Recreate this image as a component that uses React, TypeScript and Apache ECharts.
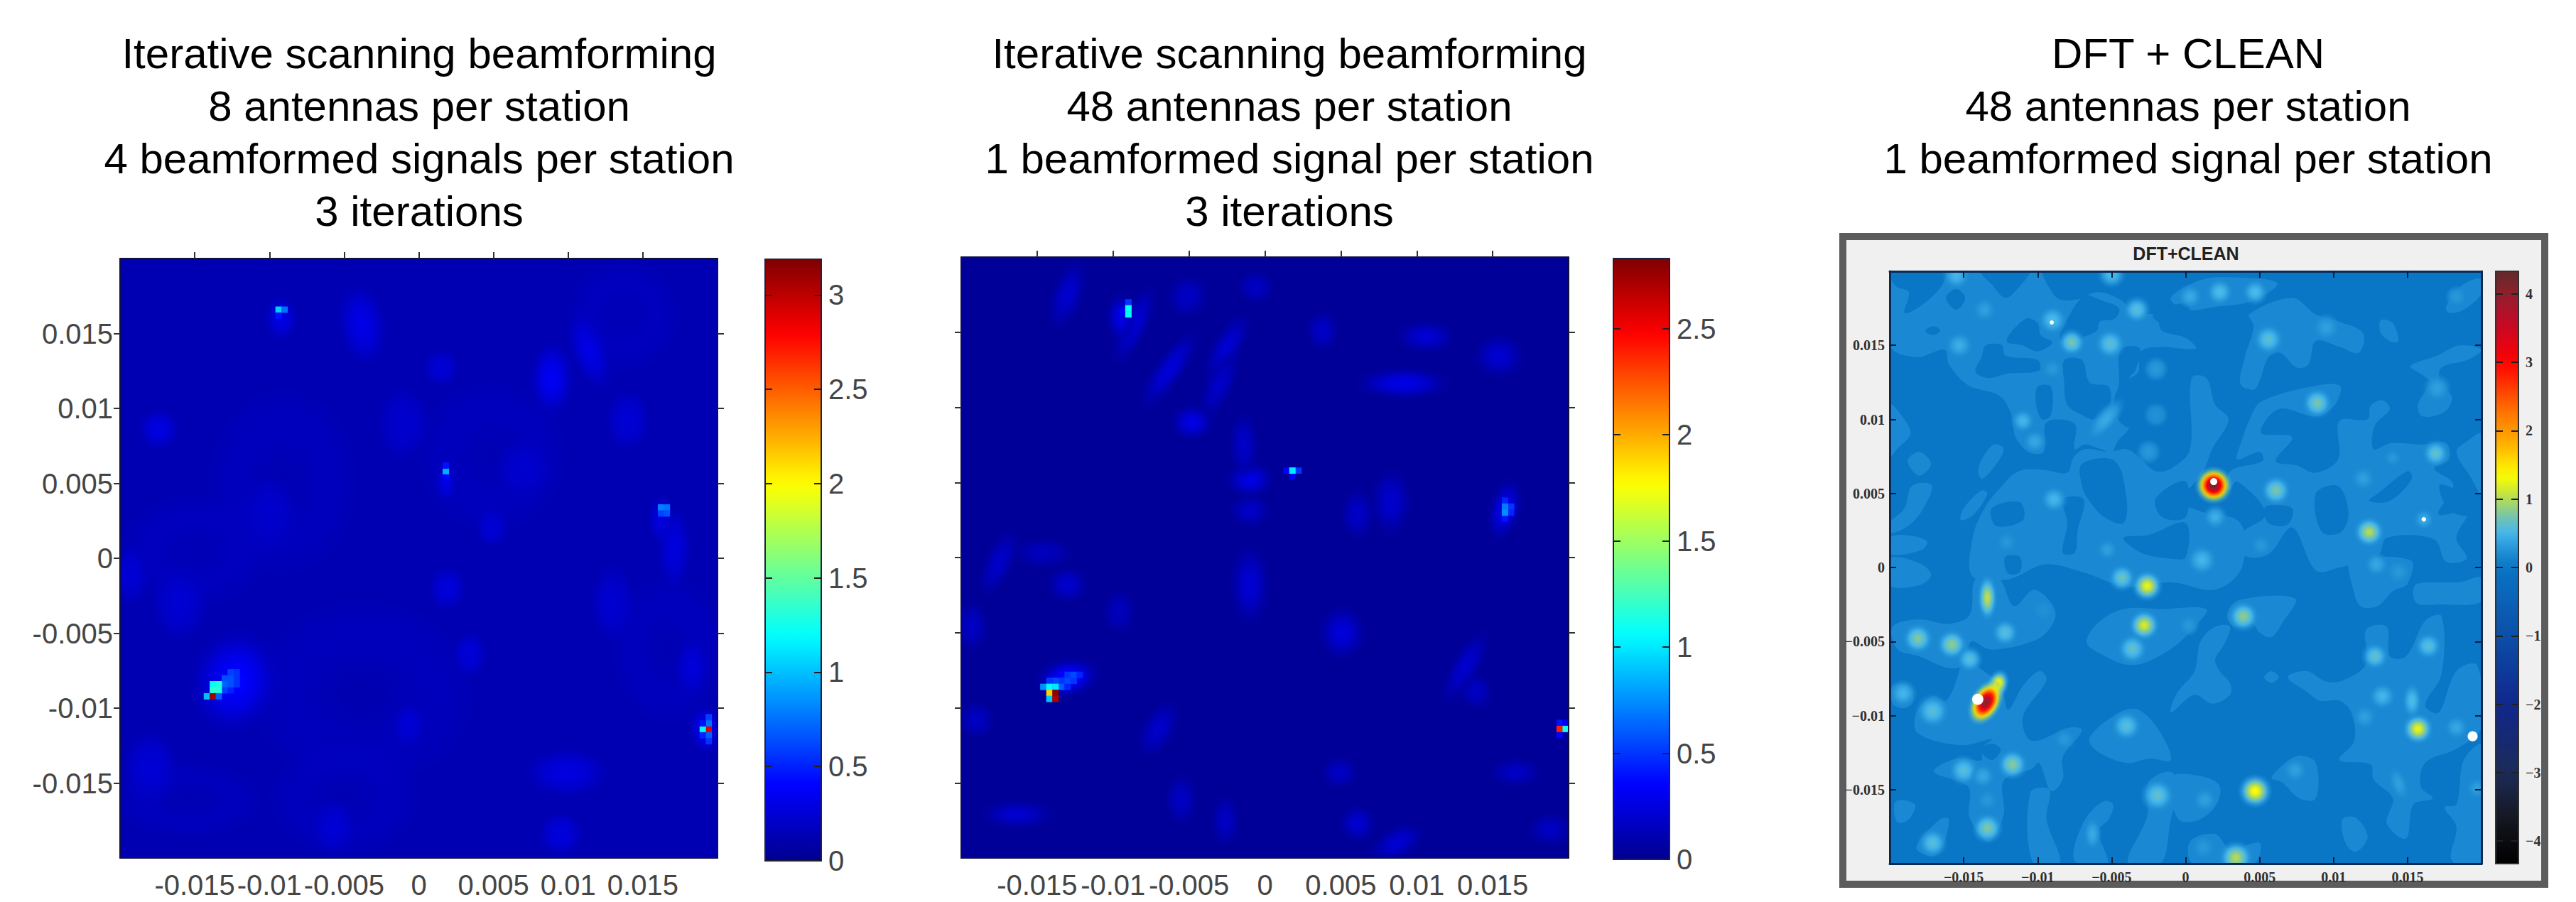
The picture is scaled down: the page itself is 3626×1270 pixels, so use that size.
import React, { useEffect, useRef } from "react";
import * as echarts from "echarts";

const plotTicks = [-0.015, -0.01, -0.005, 0, 0.005, 0.01, 0.015];
const AXIS_LIMIT = 0.02;
const CELL = 0.4; // one image pixel, axis units x 1e-3

const jetStops = [[0, "#00008f"], [0.125, "#0000ff"], [0.375, "#00ffff"], [0.625, "#ffff00"], [0.875, "#ff0000"], [1, "#800000"]];
const cleanStops = [[-4.33, "#000000"], [-3.7, "#15161e"], [-3, "#1c2b58"], [-2, "#10268c"], [-1, "#0b4fa8"], [0, "#0a74c4"], [0.2, "#1a8ad2"], [0.5, "#45b6ec"], [0.8, "#80c8a0"], [1, "#b4dc50"], [1.35, "#ffff00"], [1.8, "#ffb000"], [2.3, "#ff7000"], [3, "#ff0000"], [3.6, "#c00a28"], [4, "#90202e"], [4.33, "#5f2a2a"]];

// Soft structure: x, y, value, rx, ry, rotation in degrees
const beam8Soft = [
  [-3.8, -9, 0.12, 6, 5, 0], [-9.1, 5.1, 0.13, 4, 5, 0], [4.9, 6.8, 0.13, 4, 4, 0], [-15.5, -16.1, 0.13, 4, 2, 0], [16.7, -6.1, 0.13, 3, 4, 0], [13.7, 16.2, 0.14, 3, 3, 0], [-5, -16, 0.13, 4, 3, 0], [-15, 0.5, 0.14, 4, 3, 0],
  [8.9, 12, 0.36, 1.2, 2, 0], [11.4, 13.9, 0.31, 1, 2.2, 20], [-3.8, 15.6, 0.31, 1.3, 2.2, 10], [-17.4, 8.6, 0.3, 1.1, 1.1, 0], [4.9, 2.1, 0.25, 0.9, 1.1, 0], [3.4, -6.4, 0.26, 0.9, 1.2, 0], [-0.7, -11.1, 0.25, 0.9, 1.2, 0], [9.9, -14.3, 0.29, 2.2, 1.3, 0], [9.5, -18.4, 0.28, 1.2, 1.2, 0], [-5.7, -17.9, 0.25, 1.2, 1.5, 0], [-19.3, -1.1, 0.25, 1, 1.6, 0], [1.5, 12.7, 0.25, 1, 1, 0], [14, 9.2, 0.25, 1.2, 1.6, 0], [1.9, -2, 0.27, 1, 1.2, 0], [17.1, 0.7, 0.28, 0.9, 2.2, 0], [-12.3, -8.2, 0.42, 2.4, 2.8, -15], [-9.2, 16, 0.3, 0.9, 1.2, 0], [18.3, -7.3, 0.27, 0.9, 1.6, 0], [1.8, 5, 0.29, 0.6, 1, 0], [16.2, 2.6, 0.28, 0.7, 1.3, 0], [19.2, -11.4, 0.35, 0.9, 1.3, 0], [-10, 3, 0.22, 1.5, 2, 0], [7, 6, 0.23, 1.5, 1.5, 0], [-16, -3, 0.24, 1.5, 2, 0], [13, -3, 0.23, 1.2, 2, 0], [-18, -14, 0.25, 1.5, 2, 0], [-1, 9, 0.22, 1.4, 2, 0],
];
const beam8Cells = [
  [-9.4, 16.6, 1.05], [-9, 16.6, 0.75], [-9.4, 16.2, 0.45],
  [1.8, 5.8, 0.95], [1.8, 6.2, 0.45], [1.8, 5.4, 0.4],
  [16.2, 3.4, 0.8], [16.6, 3.4, 0.75], [16.2, 3, 0.6], [16.6, 3, 0.65],
  [-13, -8.8, 0.6], [-12.6, -8.8, 0.5], [-13, -8.4, 0.7], [-12.6, -8.4, 0.65], [-12.2, -8.4, 0.55], [-13, -8, 0.65], [-12.6, -8, 0.65], [-12.2, -8, 0.55], [-12.6, -7.6, 0.6], [-12.2, -7.6, 0.55],
  [-13.8, -8.4, 1.2], [-13.4, -8.4, 1.3], [-13.8, -8.8, 1.35], [-13.4, -8.8, 1.3], [-14.2, -9.2, 1], [-13.8, -9.2, 3.1], [-13.4, -9.2, 0.7],
  [19.4, -11.4, 2.9], [19, -11.4, 1.2], [19.4, -11, 0.75], [19.4, -10.6, 0.6], [19.4, -11.8, 0.7], [19.4, -12.2, 0.55], [19, -11.8, 0.5], [19, -11, 0.45],
];
const beam48Soft = [
  [-6.3, 12.5, 0.23, 0.8, 2.6, -35], [-13, 17.5, 0.2, 0.9, 2, -20], [-8.6, 15.5, 0.21, 0.8, 2.4, -25], [-2.5, 14, 0.21, 0.8, 2.2, -30], [-3, 11.5, 0.18, 0.8, 2, -25], [-4.8, 9, 0.27, 1.2, 1, 0], [-1, 5.2, 0.28, 1.3, 1, 0], [-1.4, 7.5, 0.18, 0.8, 1.8, 0], [9.1, 11.6, 0.28, 2.6, 0.9, 0], [10.6, 14.7, 0.22, 1.6, 0.9, 0], [15.4, 13.4, 0.21, 1.4, 1.2, 0], [3.8, 15.1, 0.18, 0.9, 1.1, 0], [8.3, 3.7, 0.2, 1.1, 1.9, 0], [6.1, 2.9, 0.18, 0.9, 1.4, 0], [-1, 3.1, 0.18, 1.1, 0.9, 0], [15.8, 3.2, 0.3, 0.9, 1.8, -15], [-17.5, -0.3, 0.18, 0.8, 2, -25], [-13, -1.8, 0.2, 1.1, 1, 0], [-14.6, 0.3, 0.15, 1.6, 0.8, 0], [-1, -1.8, 0.22, 1.1, 2.2, 0], [5.1, -5, 0.24, 1.3, 1.5, 0], [13.2, -7.3, 0.2, 0.8, 2.3, -30], [13.9, -8.9, 0.17, 0.9, 1, 0], [-7, -11.4, 0.19, 0.9, 1.7, -30], [-16.3, -17.1, 0.2, 2, 0.8, 0], [-19, -10.8, 0.17, 1, 1, 0], [6.1, -17.7, 0.21, 1, 1, 0], [8.7, -19, 0.21, 1.6, 0.9, 30], [16.5, -14.3, 0.17, 1.4, 0.8, 0], [18.8, -18.1, 0.17, 1.2, 0.9, 0], [4.9, -14.3, 0.17, 1, 0.9, 0], [-5.5, -16.1, 0.17, 0.9, 1.4, 0], [-2.6, -17.5, 0.17, 0.8, 1.4, 0], [-0.6, 18, 0.17, 1, 0.9, 0], [-5.1, 17.4, 0.17, 1.1, 1.2, -30], [-19.3, -4.6, 0.17, 0.9, 1.4, 0], [-9.6, -3.6, 0.15, 0.9, 1.2, 0], [-13, -8, 0.4, 1.8, 1.1, 10], [-9.5, 16, 0.27, 0.8, 1.4, 0],
];
const beam48Cells = [
  [-9, 17, 0.5], [-9.4, 16.4, 0.35], [-9, 16.6, 1.1], [-9, 16.2, 1.05],
  [1.4, 5.8, 0.35], [2.2, 5.8, 0.5], [1.8, 5.4, 0.3], [1.8, 5.8, 1],
  [15.8, 3.8, 0.45], [15.8, 2.6, 0.4], [16.2, 3.4, 0.5], [16.2, 3, 0.45], [15.8, 3.4, 0.7], [15.8, 3, 0.75],
  [-13.4, -8.2, 0.5], [-13.8, -8.2, 0.55], [-13, -8.2, 0.55], [-12.6, -8.2, 0.5], [-13, -7.8, 0.5], [-12.6, -7.8, 0.55], [-12.2, -7.8, 0.45], [-13.4, -8.6, 0.6], [-14.2, -8.2, 0.5], [-13, -8.6, 0.45],
  [-14.6, -8.6, 0.75], [-14.2, -8.6, 1.05], [-13.8, -8.6, 1], [-14.2, -9, 1.9], [-13.8, -9, 2.8], [-14.2, -9.4, 0.9], [-13.8, -9.4, 2.7],
  [19.4, -11, 0.4], [19.4, -11.8, 0.35], [19.8, -11, 0.3], [19.4, -11.4, 2.4], [19.8, -11.4, 1.1],
];
// DFT+CLEAN: lighter contour regions (x, y vertices)
const cleanRegions = [
  [[-20, 20], [-9.8, 20], [-9.2, 18.9], [-7.5, 18.1], [-6, 18.6], [-4.6, 18.2], [-3.3, 17.2], [-2, 17], [-1.6, 16], [0, 15.5], [0.7, 14.8], [-0.5, 14.8], [-1.5, 14.9], [-3, 14.6], [-3.2, 13.2], [-3.7, 12.8], [-4.6, 12], [-4.8, 11], [-4.3, 10], [-3.8, 9.5], [-4.6, 8.5], [-5, 7.7], [-5.5, 7.9], [-6.8, 8.3], [-7.5, 8], [-7.5, 9.7], [-9.4, 9.8], [-9.6, 7.8], [-10.6, 7.8], [-11.5, 8.8], [-11.8, 10.4], [-12.6, 11.6], [-14.7, 12.3], [-16, 13.7], [-16.3, 14.7], [-18.2, 14.2], [-20, 15]],
  [[-20, 11], [-19, 10], [-18.6, 9], [-19.5, 8], [-20, 7.5]],
  [[-18.8, 7.2], [-18, 7.8], [-17.2, 7], [-18, 6.2]],
  [[-14, 6.8], [-13, 8.3], [-12.3, 8], [-13, 6.7], [-13.8, 6]],
  [[-19, 4], [-18.5, 5.5], [-17.2, 5.6], [-17.4, 4.6], [-18.5, 3], [-20, 2.3], [-20, 3]],
  [[-15, 4], [-13.8, 5.2], [-13.4, 5], [-14.3, 3.6], [-15.2, 3.2]],
  [[-20, 2], [-19, 2.2], [-17.5, 1.8], [-17.8, 1.2], [-20, 0.9]],
  [[-20, 0.6], [-18, 0.3], [-17.2, -0.5], [-18, -1.2], [-20, -1.2]],
  [[-14.4, 2], [-13.6, 4], [-12.6, 5.3], [-11.3, 6.5], [-9.6, 6.6], [-8, 6.4], [-7.6, 7.4], [-6.8, 8], [-5.2, 7.8], [-4, 8], [-3.2, 7.5], [-2, 6.5], [-0.8, 6.8], [0.3, 8], [0.4, 12.8], [1.4, 12.8], [2, 11], [2.9, 10], [1.8, 8], [1.2, 6.5], [-0.2, 4.5], [1, 3.8], [3.7, 3], [3.8, 0], [2, -1.5], [-1, -1], [-4, -1.3], [-7, -0.3], [-9.5, 0.2], [-12, -0.8], [-14.4, -0.6]],
  [[-1, 18.2], [1, 19.4], [3, 19.6], [6.2, 19.2], [4.5, 18], [2, 17.6], [0, 17.4]],
  [[4.3, 17.1], [7.2, 18.2], [8.8, 17.1], [10.4, 16.6], [12, 15.8], [11.7, 14.5], [10.4, 14.9], [8.8, 15.3], [8.3, 13.7], [7.5, 13.5], [6.4, 14.5], [5.6, 14.2], [5, 12.6], [4.6, 12], [3.7, 12.4], [4, 14.2], [4.6, 16.3]],
  [[13.2, 16.7], [14, 16.5], [14.4, 15.3], [14, 15.2], [13.2, 15.8]],
  [[17.6, 17.6], [18.6, 19], [20, 19.5], [20, 18.5], [18.8, 17.4], [17.8, 17.2]],
  [[15.2, 13.6], [17, 14.3], [18.5, 15], [20, 14.7], [19, 14], [17.3, 13.5], [17.2, 12.5], [18, 11.5], [17.5, 10.5], [16, 10.2], [15.7, 11], [16.5, 12.5], [16, 13]],
  [[3.7, 8.3], [4.5, 10.4], [5.1, 11.2], [7.9, 12.1], [10.4, 12.3], [10.1, 11], [8.8, 10.2], [6.3, 10.7], [5.1, 9.1], [7.2, 8.8], [6.1, 7.2], [7.5, 6.9], [8.8, 6.4], [10.3, 7.3], [10.4, 9.9], [12.3, 10], [12.5, 10.9], [13.3, 11.3], [13.8, 10.7], [12.8, 9.6], [12.7, 8], [13.9, 8.4], [16, 8.3], [17.6, 8.4], [17.8, 7.3], [16.8, 6.7], [18.1, 5.6], [17.1, 3.6], [19.1, 3.8], [18.3, 2], [19, 0.6], [17.6, 0.4], [16.8, 1.9], [13.6, 2], [13, 0.8], [10.4, 0], [8.8, -0.2], [7.2, 2.7], [5.6, 0.9], [4, 0.8], [3.7, 2.2], [5.4, 3.6], [3.5, 5.8], [2.9, 5.2], [3, 6.5], [5.2, 7.2], [5, 7.8], [3.5, 7.3]],
  [[20, 9], [19, 8.5], [18.3, 7.8], [19.2, 6.2], [20, 5]],
  [[11, 0], [11.2, -1], [11.8, -2.6], [13, -2.6], [14, -1.6], [15, -1.1], [15.2, 0.5], [11, 0.5]],
  [[15.5, -1.2], [17, -1], [18.5, -1], [20, -0.7], [20, -2.3], [17, -2.5], [15.6, -2.4]],
  [[3.6, -2.2], [7.4, -2.1], [6.5, -3.8], [5.8, -4.7], [5, -4.4], [4.5, -3.8], [3.3, -4], [2.8, -3.2]],
  [[3, -4], [2.6, -5.2], [2, -6.2], [2.3, -7], [3, -7.8], [3, -8.6], [1.8, -9.2], [0.6, -8.6], [-1, -9.8], [-0.6, -8.5], [0.6, -7], [1, -5], [2, -4]],
  [[5.3, -7.4], [5.8, -7], [6.3, -7.4], [5.8, -7.8]],
  [[6.9, -7.4], [8.2, -7], [9.5, -7.7], [10.7, -7.6], [12.2, -6.5], [12.2, -4.2], [13.6, -4], [13.8, -6], [14.9, -6], [16.2, -3.6], [17.3, -3.3], [17.3, -7.2], [16.2, -9.3], [17.1, -9.8], [18.3, -7], [19.7, -6.6], [20, -10.8], [18.4, -12.2], [16.2, -13.2], [15.9, -14.8], [16.7, -15.6], [15.4, -16], [14.9, -18.3], [13.6, -17.3], [14, -15.6], [12.7, -14.3], [12.5, -13.3], [10.4, -13], [11.4, -11.7], [11.2, -9.8], [10.4, -9], [9.1, -9], [8.2, -8.4]],
  [[20, -12], [18.8, -13], [18.3, -16], [17.5, -16.2], [18.3, -17.5], [18, -19.8], [20, -20]],
  [[10.6, -17], [11.5, -16.9], [12.3, -18.2], [11.5, -19.2], [10.8, -18.6]],
  [[7, -13], [7.8, -12.7], [8.8, -13.2], [8.8, -15.6], [7.7, -15.6], [6.5, -14.5], [5.8, -14.2]],
  [[-1, -14.2], [0.5, -14], [2.2, -14.6], [2.2, -15.8], [1, -17], [-0.5, -17]],
  [[0.3, -18.5], [2, -18], [3, -19], [5, -18.6], [4.6, -20], [0.5, -20]],
  [[-18.2, -9.8], [-17.1, -8.7], [-16.2, -9], [-15.3, -7], [-15.2, -5.9], [-13.9, -6.8], [-12.5, -8], [-12, -9.6], [-11, -8], [-9.9, -7], [-9.4, -7.6], [-11, -10.1], [-10.4, -11.7], [-7.8, -10.8], [-7, -11], [-8.3, -12.8], [-8.3, -14.3], [-9.1, -15.1], [-9.9, -13.2], [-10.4, -13.6], [-12.3, -14.4], [-12.3, -16.7], [-13.3, -18.5], [-14.6, -16.9], [-14.7, -14.8], [-17, -13.8], [-15.5, -12.9], [-13.8, -13], [-13.8, -12.2], [-13.1, -11.6], [-15.2, -12], [-18.1, -11.2]],
  [[-19.8, -8], [-18.7, -8], [-18.4, -9], [-19, -9.5], [-19.8, -9.2]],
  [[-19.6, -15.8], [-18.3, -16], [-18.7, -17], [-19.5, -17.2]],
  [[-18.2, -18.9], [-16.6, -17], [-16, -17], [-16.5, -19], [-17.2, -19.5]],
  [[-10.5, -15.2], [-9.2, -15], [-9.4, -17], [-8.5, -20], [-10.3, -20]],
  [[-7.5, -19.8], [-6.9, -17.2], [-5.6, -15.8], [-4.9, -16], [-5.2, -17], [-5.9, -17.8], [-5.3, -20]],
  [[-3.9, -20], [-2.6, -16.8], [-2.5, -14.5], [-1, -13.8], [-0.5, -15], [-1, -17], [-1.7, -20]],
  [[-6.5, -11.5], [-4.5, -9.8], [-3.2, -9.6], [-1.8, -11], [-1, -13], [-2.4, -12.9], [-4, -13.2], [-6, -12.4]],
  [[-19.8, -4], [-18, -3.5], [-16, -3.8], [-14.6, -3.2], [-14.2, -0.8], [-12.6, -0.8], [-11.6, -2.6], [-10.2, -1.5], [-8.8, -3], [-9.5, -4.5], [-11, -5.2], [-12.5, -5.5], [-13.4, -5.5], [-14.5, -5], [-14.9, -6.5], [-16, -6.8], [-18, -6], [-19.5, -5.5]],
  [[-6.7, -5], [-5.9, -3.7], [-4.2, -2.8], [-1.6, -2.8], [1.4, -2.8], [0.8, -3.8], [-1, -5.5], [-3.6, -6.6], [-6, -5.7]],
];
// DFT+CLEAN: darker holes inside those regions
const cleanHoles = [
  [[-20, 20], [-16.3, 20], [-16.5, 19], [-18, 17.6], [-19, 17.2], [-18.7, 18.6], [-19.6, 19]],
  [[-16.2, 18.2], [-15.5, 18.8], [-14.9, 18.2], [-15.5, 17.4]],
  [[-17.6, 16], [-17, 16.3], [-16.6, 16], [-17.1, 15.7]],
  [[-13.8, 20], [-10.6, 20], [-11.3, 18.9], [-12.2, 18.2], [-13, 19]],
  [[-12.1, 15.3], [-10.8, 16.8], [-10, 16.5], [-9.8, 15.7], [-9, 15.2], [-10, 14.6], [-11, 15]],
  [[-13.5, 15], [-12.4, 15], [-12.2, 14.3], [-10, 14], [-9.9, 13.3], [-12, 13.1], [-13.3, 12.8], [-14.2, 13.2], [-13.8, 14.2]],
  [[-9.6, 20], [-6, 20], [-6.8, 19], [-7.2, 18.2], [-8.5, 18.1], [-9.2, 18.9]],
  [[-6.9, 18.3], [-5.6, 18], [-4.5, 17.5], [-4.8, 16.8], [-5.8, 16.6], [-6, 16], [-7, 15.5], [-7.8, 14.8], [-8.5, 15.5], [-8.4, 16]],
  [[-8.2, 14], [-7, 14], [-6.5, 12.5], [-5.2, 12.2], [-5.2, 10.7], [-6.2, 10], [-7, 10.3], [-8, 11], [-8.2, 12.5]],
  [[-10, 12.2], [-9.1, 12.2], [-9.1, 10.3], [-9.7, 10], [-10.1, 11]],
  [[-4.4, 14.7], [-3.1, 14.8], [-3.4, 13.3], [-3.8, 12.8], [-3.5, 11], [-3.3, 9.5], [-4.2, 9.6], [-4.8, 10.7], [-4.5, 12.5]],
  [[-2.2, 17], [0, 17.8], [0.4, 16.2], [-1, 16], [-1.6, 16.4]],
  [[-7, 7], [-4.8, 7.2], [-4, 4.7], [-4.2, 3], [-5.5, 3.4], [-6.5, 4.5], [-7, 5.5]],
  [[-13.1, 4], [-11.2, 4.4], [-11, 3.2], [-12.8, 2.8]],
  [[-8.3, 4.6], [-6.9, 4.6], [-7.3, 2.5], [-7.5, 1], [-8.3, 1], [-8, 3]],
  [[-4.2, 2], [-2.5, 2.2], [0, 3], [0, 0.7], [-1, 0.6], [-3, 1]],
  [[-2, 4.7], [0, 5.8], [0, 3.4], [-1.6, 3.4]],
  [[-12.2, 0.7], [-11.2, 0.7], [-11.2, -0.3], [-12, -0.4]],
  [[8.8, 5], [10.3, 5.5], [11, 3.7], [10.5, 2.4], [9.2, 2.4]],
  [[5.4, 4.1], [7.2, 4], [6.9, 2.9], [5.6, 3]],
  [[12.4, 4.5], [13, 5], [15, 6.5], [15.3, 6], [13.8, 4.5]],
  [[17.2, 5.6], [19.3, 4.5], [19.4, 3.5], [17.8, 3.9]],
  [[-13.9, -12.3], [-13.1, -11.9], [-12.5, -12.3], [-13.1, -13]],
];
// DFT+CLEAN: round sources, x, y, peak value, radius
const cleanSpots = [
  [-15.5, 19.7, 0.5, 0.9], [-5, 19.8, 0.55, 0.9], [0.3, 18.3, 0.42, 0.8], [2.3, 18.6, 0.55, 0.9], [4.7, 18.6, 0.55, 0.85], [-3.3, 17.4, 0.6, 0.9], [-9, 16.7, 0.55, 0.95], [-13.6, 17.4, 0.35, 0.8], [-7.7, 15.2, 0.75, 0.9], [-5.1, 15.1, 0.62, 1], [-15.3, 15, 0.45, 0.9], [5.6, 15.4, 0.62, 1], [9.5, 16.2, 0.35, 0.9], [-2, 13.4, 0.3, 0.8], [-9, 13.4, 0.3, 0.7], [8.9, 11.1, 0.75, 1],
  [17, 12.1, 0.35, 0.9], [-11, 9.9, 0.5, 0.8], [-10.2, 8.5, 0.4, 0.8], [-2, 10.3, 0.25, 0.8], [-2.5, 7.8, 0.3, 0.8], [16.9, 7.7, 0.65, 0.9], [12, 6, 0.35, 0.8], [14, 7.4, 0.3, 0.6], [18.3, 18.3, 0.3, 0.7], [-8.9, 4.6, 0.5, 0.9], [6.1, 5.2, 0.75, 1], [2, 3.4, 0.45, 0.8], [12.4, 2.4, 1, 1], [5.1, 1.5, 0.3, 0.7], [-12.1, 1.7, 0.3, 0.7], [-5.3, 1.2, 0.35, 0.7], [1.1, 0.5, 0.5, 1], [12.9, 0.2, 0.4, 0.8], [14.4, -0.3, 0.3, 0.8], [16.1, 3.25, 0.42, 0.7],
  [-4.3, -0.7, 0.7, 0.9], [-2.6, -1.25, 1.25, 1], [-9.6, -2.9, 0.25, 0.7], [3.9, -3.3, 0.85, 1], [0.2, -3.9, 0.3, 0.7], [-2.8, -3.9, 1.15, 1], [-12.2, -4.4, 0.6, 0.9], [-18.1, -4.8, 0.8, 1], [-15.8, -5.2, 0.85, 1], [-14.6, -6.2, 0.6, 0.85], [-3.6, -5.5, 0.65, 1], [12.8, -6, 0.65, 0.9], [16.4, -5.3, 0.6, 0.9],
  [-19.1, -8.5, 0.5, 0.9], [-17.1, -9.7, 0.6, 1.1], [13.3, -8.7, 0.5, 0.9], [12.1, -10.1, 0.35, 0.8], [-4, -10.7, 0.6, 1], [15.7, -10.9, 1.25, 1], [18.3, -10.8, 0.4, 0.8], [-8.2, -11.6, 0.3, 0.7], [-15, -13.7, 0.6, 1], [-11.7, -13.3, 0.82, 1], [-13.7, -14.1, 0.4, 0.8], [4.7, -15.1, 1.35, 1.1], [-1.9, -15.4, 0.65, 1.1], [1.3, -15.7, 0.35, 0.8], [7.4, -13.7, 0.35, 0.8], [-13.4, -15.7, 0.3, 0.7], [-13.4, -17.6, 0.78, 1], [-17.1, -18.6, 0.6, 0.95], [1.2, -18.9, 0.3, 0.8], [3.4, -19.6, 1, 1.1], [19.7, -14.9, 0.35, 0.7],
];
// DFT+CLEAN: elongated and strong sources, x, y, peak, rx, ry, rotation
const cleanEllipses = [
  [-13.4, -2.05, 1.05, 0.65, 1.5, 0], [-5.4, 10, 0.42, 0.7, 1.7, -40], [15.3, -9, 0.55, 0.65, 1.2, 0], [14.4, -14.6, 0.35, 0.6, 1.2, 20], [-6.3, -18, 0.42, 0.6, 1.1, 0],
  [-12.7, -7.9, 1.5, 0.7, 1, -20], [1.9, 5.55, 4.3, 1.2, 1.2, 0], [-13.5, -9.1, 4.1, 1, 1.6, -30],
];
const cleanWhite = [[1.9, 5.8, 0.24], [-14.05, -8.9, 0.38], [-9.05, 16.55, 0.14], [16.1, 3.25, 0.15], [19.4, -11.4, 0.34]];

const cbTicksA = [0, 0.5, 1, 1.5, 2, 2.5, 3];
const cbTicksB = [0, 0.5, 1, 1.5, 2, 2.5];
const cbTicksC = [-4, -3, -2, -1, 0, 1, 2, 3, 4];

const hex = (h: string) => [1, 3, 5].map((i) => parseInt(h.slice(i, i + 2), 16));
const lookup = (stops: any[], min: number, max: number) => (v: number) => {
  const f = stops[0][0] === 0 && stops[stops.length - 1][0] === 1 ? (v - min) / (max - min) : v;
  if (f <= stops[0][0]) return hex(stops[0][1]);
  for (let i = 1; i < stops.length; i++) {
    if (f <= stops[i][0]) {
      const t = (f - stops[i - 1][0]) / (stops[i][0] - stops[i - 1][0]);
      const a = hex(stops[i - 1][1]), b = hex(stops[i][1]);
      return a.map((c, k) => Math.round(c + (b[k] - c) * t));
    }
  }
  return hex(stops[stops.length - 1][1]);
};
const toCss = (c: number[]) => "#" + c.map((x) => x.toString(16).padStart(2, "0")).join("");
const sampled = (map: any, min: number, max: number, n: number) =>
  Array.from({ length: n }, (_, i) => toCss(map(min + ((max - min) * i) / (n - 1))));

const GT = [0, 0.12, 0.24, 0.36, 0.48, 0.6, 0.72, 0.84, 1];
const softFill = (peak: number, floor: number, map: any) =>
  new echarts.graphic.RadialGradient(0.5, 0.5, 0.5, GT.map((t) => {
    const v = floor + (peak - floor) * Math.exp(-Math.pow(t / 0.58, 2));
    const a = t < 0.55 ? 1 : Math.max(0, (1 - t) / 0.45);
    const c = map(v);
    return { offset: t, color: `rgba(${c[0]},${c[1]},${c[2]},${a.toFixed(2)})` };
  }));

const softRender = (floor: number, map: any, scale: number) => (_: any, api: any) => {
  const p = api.coord([api.value(0), api.value(1)]);
  const s = api.size([api.value(3), api.value(4)]);
  return {
    type: "circle", x: p[0], y: p[1], scaleX: (s[0] * scale) / 100, scaleY: (s[1] * scale) / 100, rotation: (api.value(5) * Math.PI) / 180,
    shape: { cx: 0, cy: 0, r: 100 }, style: { fill: softFill(api.value(2), floor, map) },
  };
};
const cellRender = (_: any, api: any) => {
  const p = api.coord([api.value(0), api.value(1)]);
  const s = api.size([CELL / 1000, CELL / 1000]);
  return { type: "rect", shape: { x: p[0] - s[0] / 2, y: p[1] - s[1] / 2, width: s[0] + 0.5, height: s[1] + 0.5 }, style: { fill: api.visual("color") } };
};
const milliPoint = (r: number[]) => [r[0] / 1000, r[1] / 1000, ...r.slice(2)];
const milliSoft = (r: number[]) => [r[0] / 1000, r[1] / 1000, r[2], r[3] / 1000, r[4] / 1000, r[5]];

const SANS = "Liberation Sans";
const SERIF = "Liberation Serif";
const GRAY = "#454545";

function buildOption() {
  const grids: any[] = [], xAxes: any[] = [], yAxes: any[] = [], series: any[] = [], maps: any[] = [];

  const addPlot = (g: any, bg: string, font: any, opts: any) => {
    const gi = grids.length;
    grids.push({ ...g, show: true, backgroundColor: bg, borderWidth: 0, containLabel: false, z: 1 });
    const base = { gridIndex: gi, type: "value", min: -AXIS_LIMIT, max: AXIS_LIMIT, interval: 0.005, splitLine: { show: false }, z: 10 };
    const line = { show: true, onZero: false, lineStyle: { color: opts.lineColor, width: opts.lineWidth } };
    const tick = (show: boolean, inside: boolean, length: number) => ({ show, inside, length, customValues: plotTicks, lineStyle: { color: opts.tickColor, width: 2 } });
    const label = (labels: boolean, margin: number) => ({ show: labels, customValues: plotTicks, margin, formatter: opts.format, ...font });
    xAxes.push({ ...base, position: "bottom", axisLine: line, axisTick: tick(opts.bottomTick, true, 9), axisLabel: label(true, opts.xMargin) });
    xAxes.push({ ...base, position: "top", axisLine: line, axisTick: tick(true, opts.inside, opts.tickLen), axisLabel: { show: false } });
    yAxes.push({ ...base, position: "left", axisLine: line, axisTick: tick(true, opts.inside, opts.tickLen), axisLabel: label(true, opts.yMargin) });
    yAxes.push({ ...base, position: "right", axisLine: line, axisTick: tick(true, opts.inside, opts.tickLen), axisLabel: { show: false } });
    return { xAxisIndex: xAxes.length - 2, yAxisIndex: yAxes.length - 2 };
  };

  const addColorbar = (g: any, min: number, max: number, ticks: number[], colors: string[], font: any, seriesIndex: number, dim: number, margin: number, format: any, lineColor: string) => {
    const gi = grids.length;
    grids.push({ ...g, show: false, z: 6 });
    const common = { gridIndex: gi, type: "value", min, max, splitLine: { show: false }, z: 10 };
    const line = { show: true, onZero: false, lineStyle: { color: lineColor, width: 2 } };
    const tick = { show: true, inside: true, length: 10, customValues: ticks, lineStyle: { color: "#202020", width: 2 } };
    xAxes.push({ gridIndex: gi, type: "value", min: 0, max: 1, position: "bottom", axisLine: line, axisTick: { show: false }, axisLabel: { show: false }, splitLine: { show: false }, z: 10 });
    xAxes.push({ gridIndex: gi, type: "value", min: 0, max: 1, position: "top", axisLine: line, axisTick: { show: false }, axisLabel: { show: false }, splitLine: { show: false }, z: 10 });
    yAxes.push({ ...common, position: "right", axisLine: line, axisTick: tick, axisLabel: { show: true, customValues: ticks, margin, formatter: format, ...font } });
    yAxes.push({ ...common, position: "left", axisLine: line, axisTick: tick, axisLabel: { show: false } });
    maps.push({
      type: "continuous", min, max, calculable: false, show: true, orient: "vertical", left: g.left, top: g.top, itemWidth: g.width, itemHeight: g.height,
      padding: 0, showLabel: false, seriesIndex, dimension: dim, inRange: { color: colors }, hoverLink: false, z: 1, realtime: false,
    });
  };

  const jetFormat = (v: number) => String(v);
  const cleanFormat = (v: number) => String(v).replace("-", "\u2212");

  // Panel 1
  const fontA = { fontFamily: SANS, fontSize: 40, color: GRAY };
  const panelA = { lineColor: "#101040", lineWidth: 2, tickColor: "#303030", tickLen: 9, inside: false, bottomTick: false, xMargin: 18, yMargin: 10, format: jetFormat };
  const mapA = lookup(jetStops, 0, 3.2);
  const axA = addPlot({ left: 169, top: 364, width: 841, height: 844 }, "#0000b2", fontA, panelA);
  series.push({ type: "custom", ...axA, z: 2, clip: true, encode: { x: 0, y: 1 }, renderItem: softRender(0.19, mapA, 1.3), data: beam8Soft.map(milliSoft) });
  const cellsA = series.length;
  series.push({ type: "custom", ...axA, z: 3, clip: true, encode: { x: 0, y: 1 }, renderItem: cellRender, data: beam8Cells.map(milliPoint) });
  addColorbar({ left: 1077, top: 365, width: 79, height: 847 }, 0, 3.19, cbTicksA, sampled(mapA, 0, 3.2, 64), fontA, cellsA, 2, 10, jetFormat, "#202040");

  // Panel 2
  const mapB = lookup(jetStops, 0, 2.83);
  const axB = addPlot({ left: 1353, top: 362, width: 855, height: 846 }, "#000098", fontA, panelA);
  yAxes[yAxes.length - 2].axisLabel = { show: false };
  series.push({ type: "custom", ...axB, z: 2, clip: true, encode: { x: 0, y: 1 }, renderItem: softRender(0.07, mapB, 1.3), data: beam48Soft.map(milliSoft) });
  const cellsB = series.length;
  series.push({ type: "custom", ...axB, z: 3, clip: true, encode: { x: 0, y: 1 }, renderItem: cellRender, data: beam48Cells.map(milliPoint) });
  addColorbar({ left: 2271, top: 364, width: 79, height: 846 }, 0, 2.83, cbTicksB, sampled(mapB, 0, 2.83, 64), fontA, cellsB, 2, 10, jetFormat, "#202040");

  // Panel 3
  const CLEAN_BG = "#0a76c6";
  const mapC = lookup(cleanStops, -4.33, 4.33);
  const fontC = { fontFamily: SERIF, fontSize: 20, fontWeight: "bold", color: "#303030" };
  const axC = addPlot({ left: 2660, top: 382, width: 833, height: 834 }, CLEAN_BG, fontC, { lineColor: "#0a2a50", lineWidth: 3, tickColor: "#0a2040", tickLen: 9, inside: true, bottomTick: true, xMargin: 9, yMargin: 7, format: cleanFormat });
  const polySeries = (shapes: number[][][], fill: string) => ({
    type: "custom", ...axC, z: 2, clip: true, encode: { x: 0, y: 1 },
    renderItem: (params: any, api: any) => {
      const pts = shapes[params.dataIndex].map((p) => api.coord([p[0] / 1000, p[1] / 1000]));
      return { type: "polygon", shape: { points: pts, smooth: 0.35 }, style: { fill } };
    },
    data: shapes.map((p, i) => [p[0][0] / 1000, p[0][1] / 1000, i]),
  });
  series.push(polySeries(cleanRegions, "#1a88d2"));
  series.push(polySeries(cleanHoles, CLEAN_BG));
  const softC = series.length;
  const spots = [...cleanSpots.map((r) => [r[0] / 1000, r[1] / 1000, r[2], r[3] / 1000, r[3] / 1000, 0]), ...cleanEllipses.map(milliSoft)];
  series.push({ type: "custom", ...axC, z: 3, clip: true, encode: { x: 0, y: 1 }, renderItem: softRender(0.2, mapC, 1.1), data: spots });
  series.push({
    type: "custom", ...axC, z: 4, clip: true, encode: { x: 0, y: 1 },
    renderItem: (_: any, api: any) => {
      const p = api.coord([api.value(0), api.value(1)]);
      const s = api.size([api.value(2), api.value(2)]);
      return { type: "circle", shape: { cx: p[0], cy: p[1], r: s[0] }, style: { fill: "#ffffff" } };
    },
    data: cleanWhite.map((r) => [r[0] / 1000, r[1] / 1000, r[2] / 1000]),
  });
  addColorbar({ left: 3513, top: 382, width: 32, height: 834 }, -4.33, 4.33, cbTicksC, sampled(mapC, -4.33, 4.33, 44), fontC, softC, 2, 10, cleanFormat, "#303030");

  const titleStyle = { fontFamily: SANS, fontSize: 60, fontWeight: "normal", color: "#000000", lineHeight: 74 };
  return {
    animation: false,
    backgroundColor: "#ffffff",
    title: [
      { text: "Iterative scanning beamforming\n8 antennas per station\n4 beamformed signals per station\n3 iterations", left: 590, top: 38, textAlign: "center", textStyle: titleStyle, padding: 0 },
      { text: "Iterative scanning beamforming\n48 antennas per station\n1 beamformed signal per station\n3 iterations", left: 1815, top: 38, textAlign: "center", textStyle: titleStyle, padding: 0 },
      { text: "DFT + CLEAN\n48 antennas per station\n1 beamformed signal per station", left: 3080, top: 38, textAlign: "center", textStyle: titleStyle, padding: 0 },
      { text: "DFT+CLEAN", left: 3077, top: 344, textAlign: "center", padding: 0, z: 12, textStyle: { fontFamily: SANS, fontSize: 25, fontWeight: "bold", color: "#222222" } },
    ],
    graphic: { elements: [{ type: "rect", z: -5, shape: { x: 2594, y: 333, width: 988, height: 912 }, style: { fill: "#f0f0f0", stroke: "#5c5c5c", lineWidth: 10 } }] },
    grid: grids, xAxis: xAxes, yAxis: yAxes, series, visualMap: maps,
  };
}

export default function App() {
  const ref = useRef<HTMLDivElement>(null);
  useEffect(() => {
    document.body.style.margin = "0";
    const chart = echarts.init(ref.current!, undefined, { renderer: "svg" });
    chart.setOption(buildOption() as any);
    return () => chart.dispose();
  }, []);
  return <div ref={ref} style={{ width: 3626, height: 1270 }} />;
}
